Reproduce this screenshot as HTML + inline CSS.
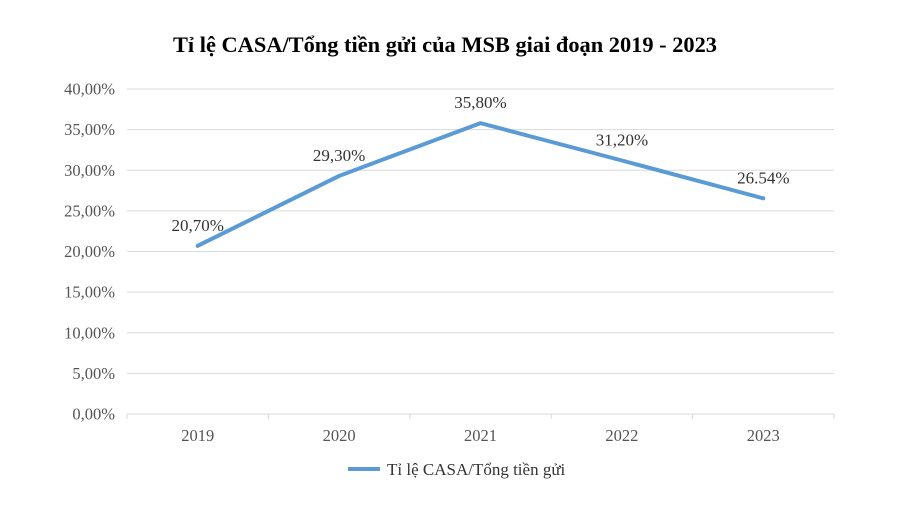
<!DOCTYPE html>
<html><head><meta charset="utf-8"><style>
body{margin:0;background:#fff;}
svg{display:block;font-family:"Liberation Serif","Noto Serif CJK SC",serif;}
</style></head><body>
<svg id="chart" width="910" height="514" viewBox="0 0 910 514">
<text x="445" y="52" text-anchor="middle" font-size="22.4" font-weight="bold" fill="#000">Tỉ lệ CASA/Tổng tiền gửi của MSB giai đoạn 2019 - 2023</text>
<g id="grid"></g><g id="axes"></g><g id="series"></g>
<g>
<line x1="348" y1="469" x2="380" y2="469" stroke="#5b9bd5" stroke-width="4"/>
<text x="387" y="475" font-size="17" fill="#333">Tỉ lệ CASA/Tổng tiền gửi</text>
</g>
</svg>
<script>
const categories=["2019","2020","2021","2022","2023"];
const values=[20.70,29.30,35.80,31.20,26.54];
const valueLabels=["20,70%","29,30%","35,80%","31,20%","26.54%"];
const yTicks=[0,5,10,15,20,25,30,35,40];
const yTickLabels=["0,00%","5,00%","10,00%","15,00%","20,00%","25,00%","30,00%","35,00%","40,00%"];
const NS="http://www.w3.org/2000/svg";
const L=127,R=834,T=89,B=414;
const y=v=>B-(v/40)*(B-T);
const bw=(R-L)/categories.length;
const x=i=>L+bw*(i+0.5);
function mk(tag,attrs,parent,text){const e=document.createElementNS(NS,tag);for(const k in attrs)e.setAttribute(k,attrs[k]);if(text!=null)e.textContent=text;document.getElementById(parent).appendChild(e);return e;}
yTicks.forEach((t,i)=>{
 const g=mk("line",{x1:L,x2:R,y1:y(t),y2:y(t),stroke:"#d9d9d9","stroke-width":1},"grid");
 
 
 const tl=mk("text",{x:115,y:y(t)+5.5,"text-anchor":"end","font-size":16.5,fill:"#555"},"axes",yTickLabels[i]);
 
 
});
for(let i=0;i<=categories.length;i++){
 const tk=mk("line",{x1:L+bw*i,x2:L+bw*i,y1:B,y2:B+5,stroke:"#d9d9d9"},"axes");
 
 
}
categories.forEach((c,i)=>{
 const t=mk("text",{x:x(i),y:441,"text-anchor":"middle","font-size":16.5,fill:"#555"},"axes",c);
 
 
});
const p=mk("polyline",{points:values.map((v,i)=>x(i)+","+y(v)).join(" "),fill:"none",stroke:"#5b9bd5","stroke-width":4,"stroke-linejoin":"round","stroke-linecap":"round"},"series");


values.forEach((v,i)=>{
 const t=mk("text",{x:x(i),y:y(v)-15,"text-anchor":"middle","font-size":17,fill:"#333"},"series",valueLabels[i]);
 
 
});
</script>
</body></html>
